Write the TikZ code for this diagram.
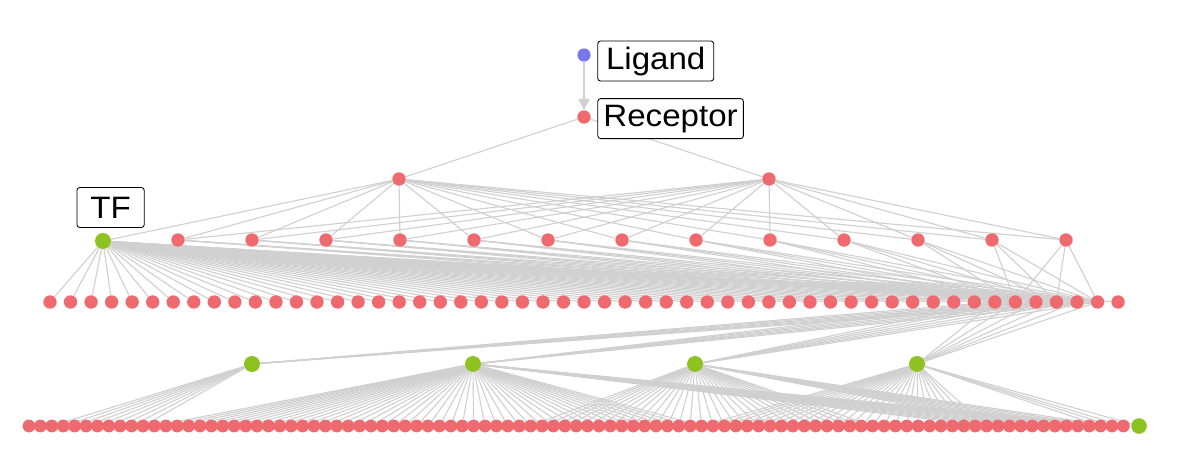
\documentclass[tikz,border=0pt]{standalone}
\usepackage{fontspec}
\setmainfont{Liberation Sans}
\usetikzlibrary{arrows.meta,positioning}
\definecolor{genered}{RGB}{238,106,111}
\definecolor{ligblue}{RGB}{120,120,238}
\definecolor{tfgreen}{RGB}{142,194,32}
\definecolor{linkgray}{RGB}{208,208,208}
\pgfdeclarelayer{bg}
\pgfsetlayers{bg,main}
\newcommand{\lbltext}[1]{\scalebox{1.07}[1]{#1}}

\begin{document}
\begin{tikzpicture}[x=0.025cm,y=-0.025cm,
  gene/.style={circle,fill=genered,inner sep=0pt,minimum size=0.335cm},
  tfnode/.style={circle,fill=tfgreen,inner sep=0pt,minimum size=0.4cm},
  lignode/.style={circle,fill=ligblue,inner sep=0pt,minimum size=0.33cm},
  lbl/.style={draw=black,fill=white,rounded corners=2pt,line width=0.6pt,
    inner xsep=4pt,inner ysep=0pt,minimum height=1cm,
    font=\fontsize{22pt}{26pt}\selectfont},
  lnk/.style={draw=linkgray,line width=0.8pt},
  arr/.style={draw=linkgray,line width=0.8pt,-{Triangle[length=8pt,width=8pt]}}]
\useasboundingbox (0,0) rectangle (1198,468);
% ligand and receptor
\node[lignode] (lig) at (584,55) {};
\node[gene] (rec) at (584,117) {};
\node[lbl,minimum width=2.9cm,right=0.16cm of lig,yshift=-0.15cm] (liglab) {\lbltext{Ligand}};
\node[lbl,right=0.16cm of rec,yshift=-0.04cm] (reclab) {\lbltext{Receptor}};
% second row
\node[gene] (k1) at (399,179) {};
\node[gene] (k2) at (769,179) {};
% third row
\node[tfnode] (tf) at (103,241) {};
\node[lbl,minimum width=1.68cm,above=0.12cm of tf,xshift=0.19cm] (tflab) {\lbltext{TF}};
\foreach \i in {1,...,13}
  \node[gene] (m\i) at ({178+(\i-1)*74},240) {};
% targets of the first TF
\foreach \i in {1,...,53}
  \node[gene] (t\i) at ({50+(\i-1)*20.54},302) {};
% second tier of TFs
\foreach \i/\x in {1/252,2/473,3/695,4/917}
  \node[tfnode] (g\i) at (\x,364) {};
% bottom row
\foreach \i in {1,...,97}
  \node[gene,minimum size=0.32cm] (b\i) at ({29+(\i-1)*11.4},426) {};
\node[tfnode,minimum size=0.39cm] (bend) at (1139,426) {};

\begin{pgfonlayer}{bg}
\draw[arr] (lig) -- (rec);
\draw[lnk] (rec) -- (k1);
\draw[lnk] (rec) -- (k2);
\draw[lnk] (k1) -- (tf);
\foreach \i in {1,...,13} {
  \draw[lnk] (k1) -- (m\i);
  \draw[lnk] (k2) -- (m\i);
}
\foreach \i in {1,...,53}
  \draw[lnk] (tf) -- (t\i);
\foreach \i in {1,...,13}
  \foreach \j in {48,50,52}
    \draw[lnk] (m\i) -- (t\j);
\foreach \i in {1,...,4}
  \foreach \j in {47,...,52}
    \draw[lnk] (t\j) -- (g\i);
% fans into the bottom row
\foreach \j in {3,...,11}
  \draw[lnk] (g1) -- (b\j);
\foreach \j in {12,...,60}
  \draw[lnk] (g2) -- (b\j);
\foreach \j in {85,...,97}
  \draw[lnk] (g2) -- (b\j);
\foreach \j in {45,...,75}
  \draw[lnk] (g3) -- (b\j);
\foreach \j in {88,...,96}
  \draw[lnk] (g3) -- (b\j);
\foreach \j in {60,...,85}
  \draw[lnk] (g4) -- (b\j);
\foreach \j in {95,96,97}
  \draw[lnk] (g4) -- (b\j);
\draw[lnk] (g4) -- (bend);
\end{pgfonlayer}
\end{tikzpicture}
\end{document}
